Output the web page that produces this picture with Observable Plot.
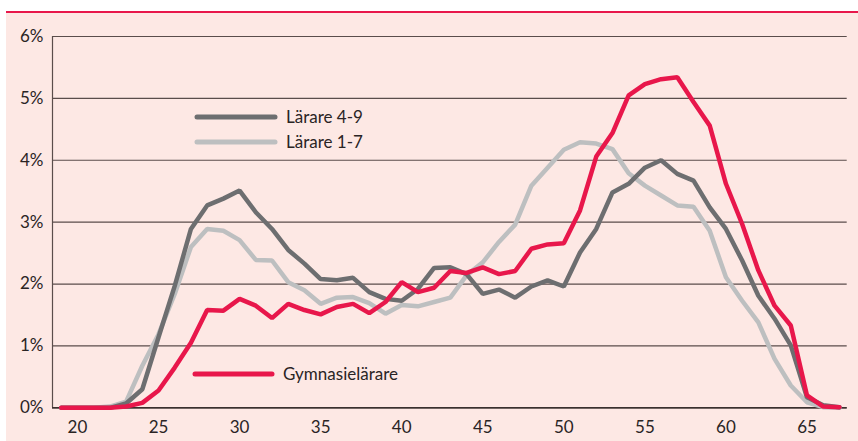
<!DOCTYPE html>
<html>
<head>
<meta charset="utf-8">
<script src="https://cdn.jsdelivr.net/npm/d3@7"></script>
<script src="https://cdn.jsdelivr.net/npm/@observablehq/plot@0.6"></script>
<style>
  html, body { margin: 0; padding: 0; background: #ffffff; }
  body { width: 858px; height: 441px; position: relative; overflow: hidden; font-family: Lato, "Open Sans", sans-serif; }
  #panel { position: absolute; left: 6px; top: 11px; width: 852px; height: 430px; background: #fde8e4; border-top: 2px solid #e8174b; box-sizing: border-box; }
  #chart { position: absolute; left: 0; top: 0; }
  #legend { position: absolute; left: 0; top: 0; pointer-events: none; }
</style>
</head>
<body>
<div id="panel"><div id="chart"></div><svg id="legend" width="852" height="428"></svg></div>
<script>
const ages = [19,20,21,22,23,24,25,26,27,28,29,30,31,32,33,34,35,36,37,38,39,40,41,42,43,44,45,46,47,48,49,50,51,52,53,54,55,56,57,58,59,60,61,62,63,64,65,66,67];
const larare49 = [0,0,0,0,0.07,0.30,1.14,1.97,2.89,3.27,3.38,3.51,3.16,2.89,2.55,2.33,2.08,2.06,2.10,1.87,1.76,1.73,1.92,2.26,2.27,2.16,1.84,1.91,1.78,1.96,2.06,1.96,2.51,2.89,3.48,3.62,3.88,4.00,3.78,3.67,3.24,2.89,2.38,1.81,1.44,1.01,0.17,0.04,0.01];
const larare17 = [0,0,0,0.02,0.10,0.68,1.19,1.84,2.60,2.89,2.86,2.71,2.39,2.38,2.03,1.90,1.68,1.78,1.79,1.69,1.52,1.66,1.64,1.71,1.78,2.14,2.35,2.68,2.96,3.59,3.88,4.17,4.29,4.27,4.18,3.79,3.59,3.43,3.27,3.25,2.86,2.11,1.73,1.38,0.79,0.36,0.09,0.01,0];
const gymnasie = [0,0,0,0,0.02,0.08,0.28,0.65,1.05,1.58,1.57,1.76,1.65,1.45,1.68,1.58,1.51,1.63,1.68,1.53,1.71,2.03,1.87,1.94,2.21,2.18,2.27,2.16,2.21,2.57,2.64,2.66,3.19,4.06,4.44,5.05,5.23,5.31,5.34,4.94,4.56,3.62,2.97,2.22,1.65,1.33,0.20,0.02,0.01];
const seriesNames = ["Lärare 4-9", "Lärare 1-7", "Gymnasielärare"];
const seriesColors = ["#6d6e70", "#bdbfc0", "#e8174b"];
const xTicks = [20,25,30,35,40,45,50,55,60,65];
const yTicks = [0,1,2,3,4,5,6];

const rows = [];
const order = [1, 0, 2];
for (const s of order) {
  const vals = [larare49, larare17, gymnasie][s];
  ages.forEach((a, i) => rows.push({age: a, value: vals[i], series: seriesNames[s]}));
}

const gridColor = "#5a4d4b";
const chart = Plot.plot({
  width: 852,
  height: 428,
  marginLeft: 46,
  marginRight: 11.3,
  marginTop: 23,
  marginBottom: 33.7,
  style: { background: "transparent", fontFamily: "Lato, 'Open Sans', sans-serif", fontSize: "17px", color: "#2a2424" },
  x: { domain: [18.46, 67.48], ticks: xTicks, tickSize: 0, tickPadding: 13, tickFormat: d => String(d), label: null },
  y: { domain: [0, 6], ticks: yTicks, tickSize: 0, tickPadding: 9, tickFormat: d => d + "%", label: null },
  color: { domain: seriesNames, range: seriesColors },
  marks: [
    Plot.ruleY(yTicks, { stroke: gridColor, strokeWidth: 1.2 }),
    Plot.ruleX([18.46], { y1: 0, y2: 6, stroke: gridColor, strokeWidth: 1.2 }),
    Plot.ruleY([0], { stroke: "#3a302e", strokeWidth: 1.6 }),
    Plot.line(rows, { x: "age", y: "value", z: "series", stroke: "series", strokeWidth: 4.5, strokeLinejoin: "miter", strokeLinecap: "round" })
  ]
});
document.getElementById("chart").appendChild(chart);

// Legend overlay (positions relative to the panel)
const legend = d3.select("#legend");
const legendItems = [
  { name: seriesNames[0], color: seriesColors[0], x1: 191, x2: 269, y: 104 },
  { name: seriesNames[1], color: seriesColors[1], x1: 191, x2: 269, y: 129 },
  { name: seriesNames[2], color: seriesColors[2], x1: 189, x2: 266, y: 361 }
];
legendItems.forEach(it => {
  legend.append("line").attr("x1", it.x1).attr("x2", it.x2).attr("y1", it.y).attr("y2", it.y)
    .attr("stroke", it.color).attr("stroke-width", 5).attr("stroke-linecap", "round");
  legend.append("text").attr("x", it.x2 + 11).attr("y", it.y).attr("dy", "0.35em")
    .attr("font-family", "Lato, 'Open Sans', sans-serif").attr("font-size", 17).attr("fill", "#2a2424")
    .text(it.name);
});
</script>
</body>
</html>
